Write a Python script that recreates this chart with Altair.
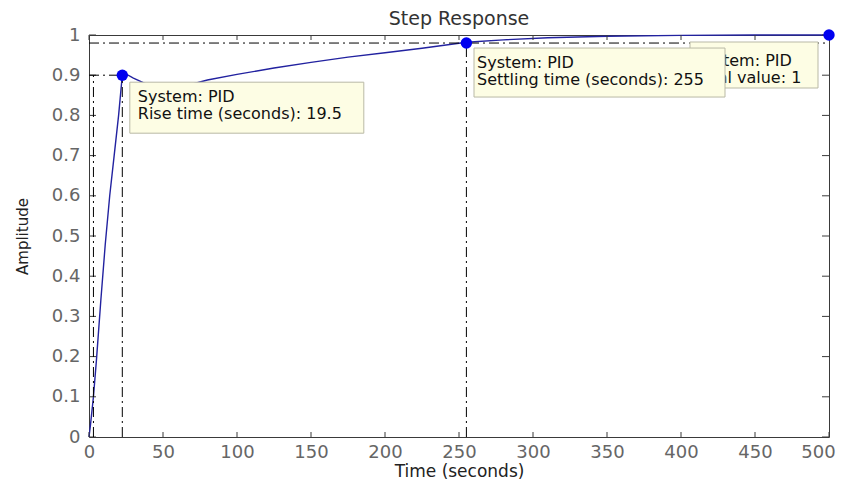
import altair as alt
import pandas as pd

# ---- data ----
time_s = [0, 1, 3, 5, 8, 11, 14, 17, 20, 22.5, 25, 30, 40, 55, 70, 80, 100, 125,
          150, 175, 200, 225, 255, 280, 310, 350, 400, 450, 500]
amplitude = [0, 0.03, 0.1, 0.19, 0.34, 0.48, 0.6, 0.7, 0.8, 0.9, 0.903, 0.893,
             0.876, 0.872, 0.878, 0.888, 0.902, 0.918, 0.932, 0.945, 0.956, 0.967,
             0.982, 0.988, 0.993, 0.997, 0.999, 1.0, 1.0]

x_ticks = [0, 50, 100, 150, 200, 250, 300, 350, 400, 450, 500]
y_ticks = [0, 0.1, 0.2, 0.3, 0.4, 0.5, 0.6, 0.7, 0.8, 0.9, 1]

rise_start, rise_end, rise_level = 3, 22.5, 0.9
settle_time, settle_level = 255, 0.98
final_time, final_value = 500, 1.0

tip_t = [rise_end, settle_time, final_time]
tip_amp = [rise_level, settle_level, final_value]
tip_line1 = ["System: PID", "System: PID", "System: PID"]
tip_line2 = ["Rise time (seconds): 19.5", "Settling time (seconds): 255", "Final value: 1"]

# ---- styling ----
FONT = "DejaVu Sans"
W, H = 740, 402
FRAME = "#3a3a3a"
LINE = "#2222a0"
xs = alt.Scale(domain=[0, 500], nice=False, zero=False)
ys = alt.Scale(domain=[0, 1], nice=False, zero=False)

x_axis = alt.Axis(values=x_ticks, title="Time (seconds)", labelPadding=20,
                  labelBaseline="alphabetic", titleY=39, titleBaseline="alphabetic",
                  titleFontSize=17, labelFlush=False, labelOverlap=False,
                  labelOffset={"condition": {"test": "datum.value >= 500", "value": -11},
                               "value": 0})
y_axis = alt.Axis(values=y_ticks, format="~g", title="Amplitude", labelPadding=9,
                  titleX=-67, titleBaseline="middle", titleFontSize=15,
                  labelFlush=False, labelOverlap=False)


def X(f):
    return alt.X(f, scale=xs, axis=x_axis)


def Y(f):
    return alt.Y(f, scale=ys, axis=y_axis)


curve_df = pd.DataFrame({"t": time_s, "amp": amplitude})
xt_df = pd.DataFrame({"v": x_ticks})
yt_df = pd.DataFrame({"v": y_ticks})

seg_df = pd.DataFrame({
    "x":  [0, rise_start, rise_end, 0, settle_time],
    "x2": [rise_end, rise_start, rise_end, final_time, settle_time],
    "y":  [rise_level, 0, 0, settle_level, 0],
    "y2": [rise_level, rise_level, rise_level, settle_level, settle_level],
})
tips_df = pd.DataFrame({"t": tip_t, "amp": tip_amp,
                        "label": [a + "\n" + b for a, b in zip(tip_line1, tip_line2)]})

# inward ticks on all four sides
bottom_ticks = alt.Chart(xt_df).mark_rule(color=FRAME).encode(
    x=X("v:Q"), y=alt.value(H), y2=alt.value(H - 5))
top_ticks = alt.Chart(xt_df).mark_rule(color=FRAME).encode(
    x=X("v:Q"), y=alt.value(0), y2=alt.value(5))
left_ticks = alt.Chart(yt_df).mark_rule(color=FRAME).encode(
    y=Y("v:Q"), x=alt.value(0), x2=alt.value(7))
right_ticks = alt.Chart(yt_df).mark_rule(color=FRAME).encode(
    y=Y("v:Q"), x=alt.value(W), x2=alt.value(W - 7))

segs = alt.Chart(seg_df).mark_rule(color="#000000", strokeWidth=1,
                                   strokeDash=[10, 4, 2, 4]).encode(
    x=X("x:Q"), x2="x2:Q", y=Y("y:Q"), y2="y2:Q")

curve = alt.Chart(curve_df).mark_line(color=LINE, strokeWidth=1.4).encode(
    x=X("t:Q"), y=Y("amp:Q"))

markers = alt.Chart(tips_df).mark_point(filled=True, shape="circle", size=130,
                                        color="#0000f0", opacity=1).encode(
    x=X("t:Q"), y=Y("amp:Q"))


def tip(i, x0, x1, y0, y1, dx, dy):
    d = tips_df.iloc[[i]]
    box = alt.Chart(d).mark_rect(fill="#fdfde4", stroke="#b9b9a6", strokeWidth=1,
                                 xOffset=x0, x2Offset=x1, yOffset=y0, y2Offset=y1).encode(
        x=X("t:Q"), x2="t:Q", y=Y("amp:Q"), y2="amp:Q")
    txt = alt.Chart(d).mark_text(font=FONT, fontSize=16, color="#111111", align="left",
                                 baseline="alphabetic", lineBreak="\n", lineHeight=17,
                                 dx=dx, dy=dy).encode(
        x=X("t:Q"), y=Y("amp:Q"), text="label:N")
    return [box, txt]


layers = [curve, bottom_ticks, top_ticks, left_ticks, right_ticks, segs, markers]
layers += tip(2, -139, -11, 7, 53, -134, 31)
layers += tip(1, 7.6, 258.6, 5, 54, 10.6, 25)
layers += tip(0, 7.5, 241.5, 7, 58, 15.5, 27)

chart = alt.layer(*layers).properties(
    width=W, height=H,
    autosize=alt.AutoSizeParams(type="none"),
    padding={"left": 81, "top": 27, "right": 9, "bottom": 43},
    title=alt.Title("Step Response", font=FONT, fontSize=19, fontWeight="normal",
                    color="#333333", anchor="middle", offset=-3),
).configure_view(stroke=FRAME, strokeWidth=1).configure_axis(
    grid=False, domain=False, ticks=False, tickSize=0,
    labelFont=FONT, labelFontSize=18, labelColor="#666666",
    titleFont=FONT, titleColor="#222222", titleFontWeight="normal",
)

chart.save("out.html", embed_options={"renderer": "svg", "actions": False})
